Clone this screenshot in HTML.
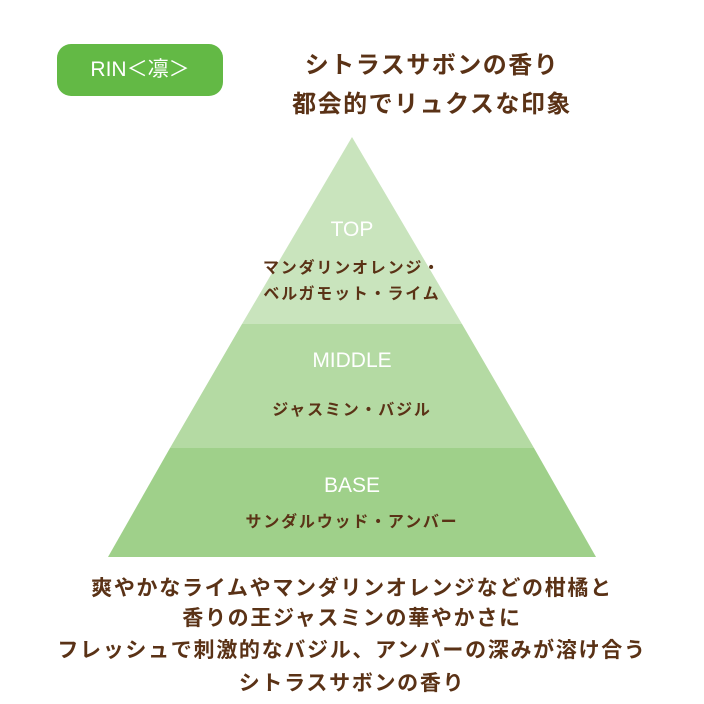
<!DOCTYPE html>
<html><head><meta charset="utf-8"><style>
body{margin:0;width:704px;height:704px;background:#fff;position:relative;overflow:hidden;font-family:"Liberation Sans","Noto Sans CJK JP",sans-serif}
.t{position:absolute;left:0;width:704px;text-align:center;white-space:nowrap;color:#5a3216;font-weight:bold}
.w{position:absolute;text-align:center;color:#fff;font-size:21px;white-space:nowrap}
</style></head><body>
<div style="position:absolute;left:57px;top:44px;width:166px;height:52px;border-radius:14px;background:#63b945;color:#fff;font-size:21px;line-height:52px;text-align:center">RIN＜凛＞</div>
<div class="t" style="left:282px;width:300px;top:45px;font-size:24px;letter-spacing:1.5px">シトラスサボンの香り</div>
<div class="t" style="left:282px;width:300px;top:84px;font-size:24px;letter-spacing:1.5px">都会的でリュクスな印象</div>
<svg style="position:absolute;left:0;top:0" width="704" height="704">
<polygon points="352,137 462,324 242,324" fill="#c9e4bd"/>
<polygon points="242,324 462,324 534,448 170,448" fill="#b4daa3"/>
<polygon points="170,448 534,448 596,557 108,557" fill="#9fd08a"/>
</svg>
<div class="w" style="left:0;width:704px;top:218px">TOP</div>
<div class="t" style="top:254px;font-size:16px;letter-spacing:1.8px">マンダリンオレンジ・</div>
<div class="t" style="top:280px;font-size:16px;letter-spacing:1.8px">ベルガモット・ライム</div>
<div class="w" style="left:0;width:704px;top:349px">MIDDLE</div>
<div class="t" style="top:396px;font-size:16px;letter-spacing:1.8px">ジャスミン・バジル</div>
<div class="w" style="left:0;width:704px;top:474px">BASE</div>
<div class="t" style="top:508px;font-size:16px;letter-spacing:1.8px">サンダルウッド・アンバー</div>
<div class="t" style="top:572px;font-size:21px;letter-spacing:1.7px">爽やかなライムやマンダリンオレンジなどの柑橘と</div>
<div class="t" style="top:602px;font-size:21px;letter-spacing:1.7px">香りの王ジャスミンの華やかさに</div>
<div class="t" style="top:634px;font-size:21px;letter-spacing:1.7px">フレッシュで刺激的なバジル、アンバーの深みが溶け合う</div>
<div class="t" style="top:667px;font-size:21px;letter-spacing:1.7px">シトラスサボンの香り</div>
</body></html>
